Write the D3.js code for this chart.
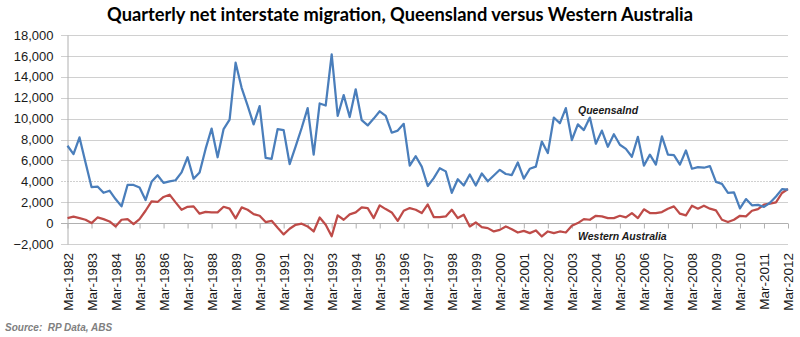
<!DOCTYPE html>
<html>
<head>
<meta charset="utf-8">
<script src="https://cdn.jsdelivr.net/npm/d3@7"></script>
<style>
  body { margin: 0; background: #fff; }
</style>
</head>
<body>
<div id="chart"></div>
<script>
// tick labels / categories
var years = d3.range(1982, 2013);
var months = ["Mar", "Jun", "Sep", "Dec"];
var quarters = [];
years.forEach(function(y) {
  months.forEach(function(m) {
    if (y < 2012 || m === "Mar") quarters.push(m + "-" + y);
  });
});
var yearLabels = years.map(function(y) { return "Mar-" + y; });
var yTicks = [-2000, 0, 2000, 4000, 6000, 8000, 10000, 12000, 14000, 16000, 18000];

// series values
var queensland = [
  7400, 6600, 8200, 5800, 3450, 3500, 2900, 3100, 2300, 1600,
  3650, 3650, 3400, 2200, 3950, 4580, 3850, 4000, 4100, 4850,
  6300, 4250, 4850, 7100, 9050, 6300, 9000, 9900, 15350, 12950,
  11250, 9450, 11200, 6250, 6150, 9000, 8900, 5650, 7350, 9100,
  11000, 6550, 11450, 11250, 16150, 10250, 12250, 10150, 12800, 9850,
  9350, 10000, 10700, 10250, 8650, 8850, 9500, 5500, 6400, 5400,
  3550, 4300, 5250, 4950, 2900, 4200, 3600, 4650, 3600, 4750,
  4000, 4550, 5100, 4700, 4600, 5800, 4250, 5200, 5400, 7800,
  6700, 10100, 9550, 11000, 7950, 9450, 8900, 10100, 7600, 8850,
  7300, 8500, 7500, 7100, 6350, 8250, 5500, 6550, 5600, 8300,
  6550, 6500, 5600, 6950, 5200, 5350, 5300, 5450, 3950, 3750,
  2900, 2950, 1400, 2300, 1700, 1750, 1550, 1950, 2550, 3250,
  3200
];
var westernAustralia = [
  480, 620, 480, 320, 0, 540, 380, 160, -320, 320,
  380, -100, 380, 1180, 2080, 2020, 2500, 2720, 1980, 1280,
  1560, 1600, 900, 1080, 1020, 1020, 1560, 1380, 450, 1500,
  1280, 860, 700, 100, 220, -450, -1080, -540, -160, -60,
  -320, -800, 540, -160, -1260, 740, 320, 840, 1020, 1500,
  1440, 480, 1700, 1340, 1020, 220, 1180, 1440, 1280, 960,
  1790, 580, 580, 640, 1280, 480, 800, -320, 60, -380,
  -480, -800, -650, -320, -580, -900, -740, -960, -700, -1280,
  -800, -960, -800, -900, -260, 0, 380, 320, 700, 640,
  480, 480, 700, 540, 960, 480, 1320, 960, 960, 1060,
  1380, 1600, 900, 740, 1660, 1380, 1660, 1380, 1220, 320,
  100, 320, 700, 640, 1180, 1340, 1760, 1860, 1980, 2880,
  3260
];

var svgWidth = 800;
var svgHeight = 337;

var svg = d3.select("#chart")
  .append("svg")
  .attr("width", svgWidth)
  .attr("height", svgHeight);

// scales
var xScale = d3.scalePoint()
  .domain(quarters)
  .range([67.5, 788]);

var yScale = d3.scaleLinear()
  .domain([-2000, 18000])
  .range([244, 35]);

// gridlines
svg.append("g")
  .selectAll("line")
  .data(yTicks)
  .enter()
  .append("line")
  .attr("x1", 61)
  .attr("x2", 788)
  .attr("y1", d => Math.round(yScale(d)) + 0.5)
  .attr("y2", d => Math.round(yScale(d)) + 0.5)
  .attr("stroke", d => d === 0 ? "#b0b0b0" : "#d0d0d0")
  .attr("stroke-width", 1)
  .attr("stroke-dasharray", d => d === 4000 ? "2,1" : null);

// y axis labels
var yAxis = d3.axisLeft(yScale)
  .tickValues(yTicks)
  .tickSize(0)
  .tickPadding(14)
  .tickFormat(d3.format(","));

svg.append("g")
  .attr("transform", "translate(67.5,0)")
  .call(yAxis)
  .call(g => g.select(".domain").attr("stroke", "#b0b0b0"))
  .selectAll("text")
  .attr("font-family", "Liberation Sans, Arial, sans-serif")
  .attr("font-size", "13px")
  .attr("fill", "#1a1a1a");

// x axis ticks along zero line
var xAxis = d3.axisBottom(xScale)
  .tickValues(yearLabels)
  .tickSize(5)
  .tickFormat("");

svg.append("g")
  .attr("transform", `translate(0, ${Math.round(yScale(0)) + 0.5})`)
  .call(xAxis)
  .call(g => g.select(".domain").remove())
  .selectAll("line")
  .attr("stroke", "#b0b0b0");

// x axis labels at the bottom
svg.append("g")
  .selectAll("text")
  .data(yearLabels)
  .enter()
  .append("text")
  .attr("transform", d => `translate(${xScale(d) + 5}, 253) rotate(-90)`)
  .attr("text-anchor", "end")
  .attr("font-family", "Liberation Sans, Arial, sans-serif")
  .attr("font-size", "13.5px")
  .attr("fill", "#1a1a1a")
  .text(d => d);

// lines
var line = d3.line()
  .x((d, i) => xScale(quarters[i]))
  .y(d => yScale(d));

svg.append("path")
  .datum(westernAustralia)
  .attr("d", line)
  .attr("fill", "none")
  .attr("stroke", "#be4b48")
  .attr("stroke-width", 2.25)
  .attr("stroke-linejoin", "round");

svg.append("path")
  .datum(queensland)
  .attr("d", line)
  .attr("fill", "none")
  .attr("stroke", "#4a7ebb")
  .attr("stroke-width", 2.25)
  .attr("stroke-linejoin", "round");

// series labels
svg.append("text")
  .attr("x", 578)
  .attr("y", 114)
  .attr("font-family", "Liberation Sans, Arial, sans-serif")
  .attr("font-size", "10.5px")
  .attr("font-weight", "bold")
  .attr("font-style", "italic")
  .attr("fill", "#1a1a1a")
  .text("Queensalnd");

svg.append("text")
  .attr("x", 578)
  .attr("y", 240)
  .attr("font-family", "Liberation Sans, Arial, sans-serif")
  .attr("font-size", "10.5px")
  .attr("font-weight", "bold")
  .attr("font-style", "italic")
  .attr("fill", "#1a1a1a")
  .text("Western Australia");

// title
var title = svg.append("text")
  .attr("x", 400)
  .attr("y", 20.5)
  .attr("text-anchor", "middle")
  .attr("font-family", "Lato, Open Sans, sans-serif")
  .attr("font-size", "18px")
  .attr("font-weight", "bold")
  .attr("fill", "#000")
  .text("Quarterly net interstate migration, Queensland versus Western Australia");

// fit title width to the reference (~586px)
var tw = title.node().getComputedTextLength();
title.attr("font-size", (18 * 586 / tw).toFixed(2) + "px");

// source
svg.append("text")
  .attr("x", 5)
  .attr("y", 331)
  .attr("font-family", "Liberation Sans, Arial, sans-serif")
  .attr("font-size", "10px")
  .attr("font-weight", "bold")
  .attr("font-style", "italic")
  .attr("fill", "#808080")
  .style("white-space", "pre")
  .text("Source:  RP Data, ABS");
</script>
</body>
</html>
